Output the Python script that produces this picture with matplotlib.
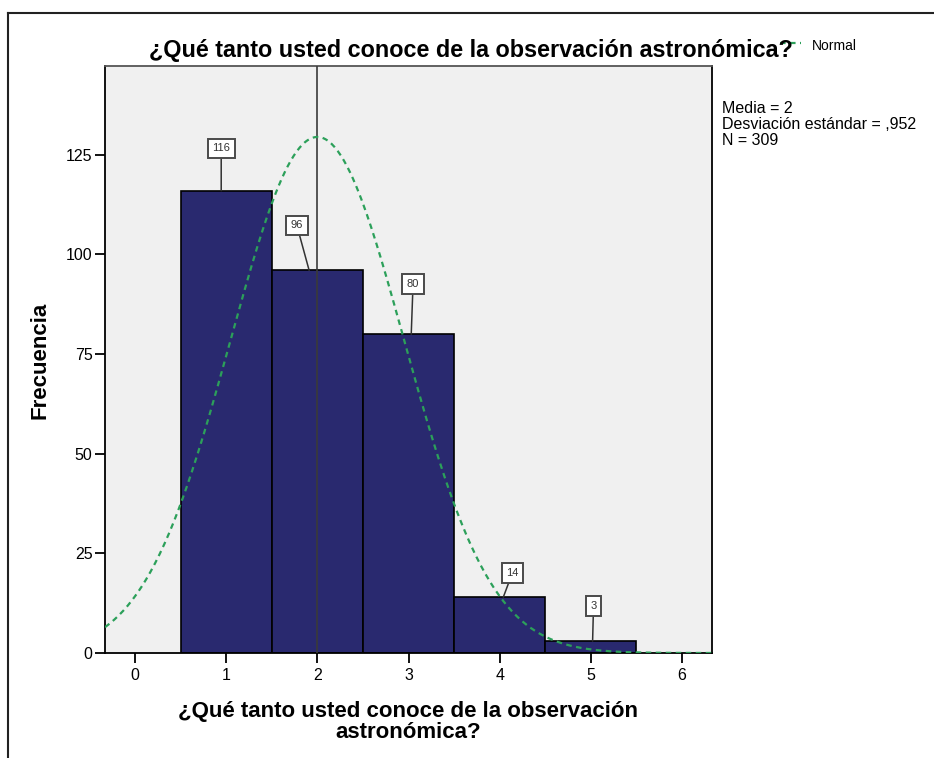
import numpy as np
import matplotlib
matplotlib.use("Agg")
import matplotlib.pyplot as plt
from matplotlib.lines import Line2D

# ---- data ----
categories = [1, 2, 3, 4, 5]
counts = [116, 96, 80, 14, 3]
x_ticks = [0, 1, 2, 3, 4, 5, 6]
y_ticks = [0, 25, 50, 75, 100, 125]
mean_val = 2.0
sd_val = 0.952
n_val = 309
title = "¿Qué tanto usted conoce de la observación astronómica?"
xlabel = "¿Qué tanto usted conoce de la observación\nastronómica?"
ylabel = "Frecuencia"
stats_text = "Media = 2\nDesviación estándar = ,952\nN = 309"

# ---- label box placement (layout only) ----
label_offsets = [(0.945, 126.6), (1.775, 107.3), (3.05, 92.6), (4.14, 20.1), (5.03, 11.8)]
label_anchor_x = [0.945, 1.91, 3.03, 4.04, 5.02]

W, H = 934, 758
plt.rcParams['font.family'] = ['Liberation Sans', 'DejaVu Sans']
fig = plt.figure(figsize=(W / 100, H / 100), dpi=100)
fig.patch.set_facecolor('white')

def fx(px):
    return px / W

def fy(py):
    return 1 - py / H

ax = fig.add_axes([fx(105), fy(653), fx(712) - fx(105), fy(66) - fy(653)])
ax.set_facecolor('#f0f0f0')

bar_color = '#29296f'
ax.bar(categories, counts, width=1.0, color=bar_color, edgecolor='black',
       linewidth=1.2, zorder=2)

# reference line at the mean
ax.axvline(mean_val, color='#3a3a3a', linewidth=1.2, zorder=3)

# normal curve
xs = np.linspace(-0.33, 6.33, 400)
ys = n_val * 1.0 / (sd_val * np.sqrt(2 * np.pi)) * np.exp(-0.5 * ((xs - mean_val) / sd_val) ** 2)
green = '#2ca05a'
ax.plot(xs, ys, color=green, linewidth=1.6, linestyle=(0, (2.5, 2)), zorder=4,
        clip_on=True)

# value labels
for c, v, (tx, ty), axx in zip(categories, counts, label_offsets, label_anchor_x):
    ax.annotate(str(v), xy=(axx, v), xytext=(tx, ty), ha='center', va='center',
                fontsize=8, color='#333333', zorder=6,
                bbox=dict(boxstyle='square,pad=0.42', facecolor='white',
                          edgecolor='#4a4a4a', linewidth=1.4),
                arrowprops=dict(arrowstyle='-', color='#333333', linewidth=1.1,
                                shrinkA=0, shrinkB=0))

ax.set_xlim(-0.33, 6.33)
ax.set_ylim(0, 147.3)
ax.set_xticks(x_ticks)
ax.set_xticklabels([str(t) for t in x_ticks])
ax.set_yticks(y_ticks)
ax.set_yticklabels([str(t) for t in y_ticks])
ax.tick_params(axis='both', direction='out', length=7, width=1.3, colors='black',
               labelsize=11.5)
ax.tick_params(axis='x', pad=4)
ax.tick_params(axis='y', pad=2)
for sp in ax.spines.values():
    sp.set_linewidth(1.3)
    sp.set_color('black')
ax.spines['top'].set_color('#555555')

# titles / labels
fig.text(fx(471), fy(50), title, ha='center', va='center', fontsize=16.8,
         fontweight='bold', color='black')
fig.text(fx(408), fy(722), xlabel, ha='center', va='center', fontsize=16,
         fontweight='bold', linespacing=1.0)
fig.text(fx(40), fy(360), ylabel, ha='center', va='center', rotation=90,
         fontsize=16, fontweight='bold')

# legend
fig.add_artist(Line2D([fx(780), fx(801)], [fy(43), fy(43)], color=green,
                      linewidth=1.6, linestyle=(0, (2.5, 2))))
fig.text(fx(812), fy(46), "Normal", ha='left', va='center', fontsize=10)

# stats
fig.text(fx(722), fy(101), stats_text, ha='left', va='top', fontsize=11.5,
         linespacing=1.1)

# outer frame (top and left edges visible)
fig.add_artist(Line2D([fx(8), 1.0], [fy(13), fy(13)], color='#222222', linewidth=1.5))
fig.add_artist(Line2D([fx(8), fx(8)], [fy(13), 0.0], color='#222222', linewidth=1.5))

fig.savefig('out.png', dpi=100, facecolor='white')
